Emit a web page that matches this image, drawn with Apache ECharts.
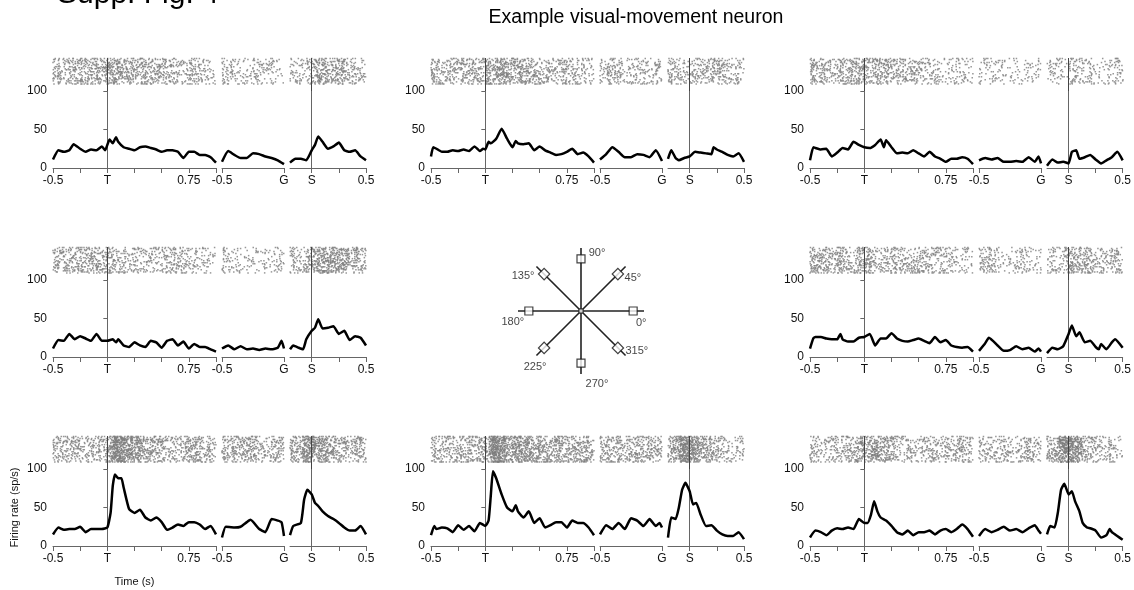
<!DOCTYPE html>
<html>
<head>
<meta charset="utf-8">
<script src="https://cdn.jsdelivr.net/npm/echarts@6/dist/echarts.min.js"></script>
<style>
html, body { margin: 0; padding: 0; background: #fff; }
#chart { width: 1134px; height: 590px; }
</style>
</head>
<body>
<div id="chart"></div>
<script>
// Firing-rate curves (sp/s) per saccade direction, as [time (s), rate] pairs.
// t = aligned on target onset, g = aligned on go cue, s = aligned on saccade onset.
const t135 = [[-0.5,11],[-0.45,23],[-0.4,21],[-0.35,23],[-0.31,31],[-0.25,25],[-0.2,21],[-0.15,24],[-0.1,23],[-0.05,28],[-0.02,23],[0.02,37],[0.05,32],[0.08,40],[0.1,34],[0.15,27],[0.2,25],[0.25,23],[0.3,27],[0.35,28],[0.4,26],[0.45,24],[0.5,21],[0.55,23],[0.6,23],[0.65,21],[0.7,13],[0.75,21],[0.8,21],[0.85,17],[0.9,17],[0.95,14],[1.0,7]];
const g135 = [[-0.5,8],[-0.45,22],[-0.4,17],[-0.35,13],[-0.3,13],[-0.25,19],[-0.2,18],[-0.15,15],[-0.1,13],[-0.05,10],[0,5]];
const s135 = [[-0.2,7],[-0.15,12],[-0.1,12],[-0.05,10],[0,23],[0.03,30],[0.06,41],[0.1,34],[0.15,25],[0.2,28],[0.25,33],[0.3,23],[0.35,21],[0.4,23],[0.45,15],[0.5,10]];

const t90 = [[-0.5,15],[-0.48,27],[-0.45,25],[-0.4,21],[-0.35,21],[-0.3,23],[-0.25,22],[-0.2,24],[-0.15,22],[-0.1,28],[-0.05,22],[-0.02,25],[0,24],[0.03,34],[0.05,32],[0.1,38],[0.15,51],[0.2,38],[0.25,27],[0.28,35],[0.3,32],[0.35,31],[0.4,32],[0.45,23],[0.5,28],[0.55,23],[0.6,20],[0.65,17],[0.7,18],[0.75,21],[0.8,25],[0.85,18],[0.9,20],[0.95,15],[1.0,7]];
const g90 = [[-0.5,11],[-0.45,18],[-0.4,27],[-0.35,21],[-0.3,14],[-0.25,14],[-0.2,18],[-0.15,17],[-0.1,14],[-0.05,23],[0,9]];
const s90 = [[-0.2,12],[-0.17,23],[-0.13,13],[-0.1,10],[-0.05,13],[0,15],[0.05,21],[0.1,20],[0.15,19],[0.2,18],[0.22,27],[0.25,24],[0.3,21],[0.35,17],[0.4,15],[0.45,19],[0.5,8]];

const t45 = [[-0.5,10],[-0.47,27],[-0.45,26],[-0.4,24],[-0.35,25],[-0.3,15],[-0.25,20],[-0.2,26],[-0.15,24],[-0.1,34],[-0.05,30],[0,27],[0.05,26],[0.1,30],[0.15,37],[0.18,27],[0.2,36],[0.25,27],[0.3,19],[0.35,20],[0.4,19],[0.45,23],[0.5,19],[0.55,15],[0.6,21],[0.65,15],[0.7,12],[0.75,8],[0.8,12],[0.85,12],[0.9,14],[0.95,12],[1.0,5]];
const g45 = [[-0.5,10],[-0.45,13],[-0.4,11],[-0.35,13],[-0.3,8],[-0.25,8],[-0.2,9],[-0.15,8],[-0.1,14],[-0.05,8],[-0.02,15],[0,6]];
const s45 = [[-0.2,3],[-0.15,11],[-0.1,7],[-0.05,8],[0,6],[0.03,21],[0.07,23],[0.1,12],[0.15,14],[0.2,17],[0.25,11],[0.3,6],[0.35,10],[0.4,14],[0.45,21],[0.5,10]];

const t180 = [[-0.5,11],[-0.45,22],[-0.4,21],[-0.35,30],[-0.3,23],[-0.25,27],[-0.2,24],[-0.15,21],[-0.1,30],[-0.05,21],[0,21],[0.05,23],[0.08,19],[0.1,23],[0.15,15],[0.2,13],[0.25,19],[0.3,15],[0.35,13],[0.4,21],[0.45,19],[0.5,12],[0.55,21],[0.6,23],[0.65,15],[0.7,20],[0.75,11],[0.8,17],[0.85,13],[0.9,13],[0.95,10],[1.0,7]];
const g180 = [[-0.5,11],[-0.45,15],[-0.4,10],[-0.35,14],[-0.3,10],[-0.25,11],[-0.2,9],[-0.15,11],[-0.1,10],[-0.05,12],[-0.02,21],[0,11]];
const s180 = [[-0.2,10],[-0.17,15],[-0.12,12],[-0.08,10],[-0.05,23],[0,34],[0.03,38],[0.06,49],[0.1,37],[0.15,38],[0.2,40],[0.25,30],[0.3,34],[0.35,22],[0.4,27],[0.45,25],[0.5,15]];

const t0 = [[-0.5,11],[-0.47,24],[-0.45,26],[-0.4,26],[-0.35,24],[-0.3,23],[-0.25,23],[-0.22,30],[-0.2,23],[-0.15,20],[-0.1,20],[-0.05,25],[0,26],[0.05,30],[0.1,15],[0.15,24],[0.2,24],[0.25,31],[0.3,24],[0.35,21],[0.4,20],[0.45,22],[0.5,24],[0.55,21],[0.6,18],[0.65,26],[0.7,19],[0.75,22],[0.8,15],[0.85,13],[0.9,12],[0.95,13],[1.0,7]];
const g0 = [[-0.5,8],[-0.45,18],[-0.42,25],[-0.35,15],[-0.3,8],[-0.25,9],[-0.2,14],[-0.15,10],[-0.1,12],[-0.05,7],[-0.02,11],[0,7]];
const s0 = [[-0.2,5],[-0.15,12],[-0.1,10],[-0.05,14],[0,30],[0.03,41],[0.07,27],[0.1,32],[0.15,19],[0.2,21],[0.25,13],[0.28,10],[0.3,17],[0.35,10],[0.4,19],[0.43,23],[0.5,12]];

const t225 = [[-0.5,15],[-0.45,24],[-0.4,21],[-0.35,22],[-0.3,22],[-0.25,25],[-0.2,18],[-0.15,22],[-0.1,22],[-0.05,22],[0,24],[0.03,43],[0.05,78],[0.07,93],[0.1,88],[0.13,88],[0.15,76],[0.2,48],[0.25,43],[0.3,47],[0.35,37],[0.4,33],[0.45,37],[0.5,31],[0.55,21],[0.6,24],[0.65,28],[0.7,26],[0.75,31],[0.8,31],[0.85,28],[0.9,22],[0.95,26],[1.0,15]];
const g225 = [[-0.5,11],[-0.47,25],[-0.4,24],[-0.35,25],[-0.3,31],[-0.27,34],[-0.2,22],[-0.15,18],[-0.1,35],[-0.05,33],[-0.02,31],[0,13]];
const s225 = [[-0.2,14],[-0.17,26],[-0.1,30],[-0.07,60],[-0.04,73],[0,67],[0.03,56],[0.06,52],[0.1,45],[0.15,39],[0.2,35],[0.25,30],[0.3,24],[0.35,20],[0.4,20],[0.45,26],[0.5,15]];

const t270 = [[-0.5,14],[-0.47,26],[-0.45,22],[-0.4,24],[-0.35,23],[-0.3,18],[-0.25,27],[-0.2,21],[-0.15,26],[-0.1,19],[-0.05,30],[0,26],[0.03,33],[0.05,65],[0.07,97],[0.1,88],[0.15,67],[0.2,50],[0.25,45],[0.28,53],[0.3,45],[0.35,37],[0.4,45],[0.45,30],[0.5,36],[0.55,24],[0.6,27],[0.65,31],[0.7,31],[0.75,24],[0.8,33],[0.85,30],[0.9,30],[0.95,24],[1.0,14]];
const g270 = [[-0.5,15],[-0.45,27],[-0.4,22],[-0.35,30],[-0.3,22],[-0.25,36],[-0.2,33],[-0.15,26],[-0.1,35],[-0.05,26],[-0.02,30],[0,24]];
const s270 = [[-0.2,11],[-0.17,37],[-0.13,35],[-0.1,50],[-0.07,73],[-0.04,82],[0,71],[0.03,54],[0.06,56],[0.1,41],[0.15,26],[0.2,27],[0.25,20],[0.3,15],[0.35,13],[0.4,13],[0.45,18],[0.5,9]];

const t315 = [[-0.5,11],[-0.45,20],[-0.4,18],[-0.35,14],[-0.3,20],[-0.25,23],[-0.2,22],[-0.15,24],[-0.1,22],[-0.05,35],[0,30],[0.03,30],[0.06,40],[0.09,58],[0.12,45],[0.15,37],[0.2,33],[0.25,26],[0.3,18],[0.35,15],[0.4,20],[0.45,14],[0.5,18],[0.55,18],[0.6,20],[0.65,15],[0.7,20],[0.75,22],[0.8,18],[0.85,22],[0.9,28],[0.95,22],[1.0,12]];
const g315 = [[-0.5,13],[-0.45,22],[-0.4,18],[-0.35,21],[-0.3,25],[-0.25,20],[-0.2,22],[-0.15,18],[-0.1,23],[-0.05,27],[-0.02,20],[0,16]];
const s315 = [[-0.2,15],[-0.17,26],[-0.13,24],[-0.1,43],[-0.07,73],[-0.04,81],[0,67],[0.03,71],[0.06,58],[0.1,45],[0.13,30],[0.17,24],[0.2,23],[0.25,20],[0.3,11],[0.35,14],[0.38,22],[0.4,18],[0.45,13],[0.5,8]];

// Saccade directions (degrees) and the label drawn next to each target square
const directions = [0, 45, 90, 135, 180, 225, 270, 315];
const directionLabels = ['0°', '45°', '90°', '135°', '180°', '225°', '270°', '315°'];

// Tick labels of the three time axes and the rate axis
const targetTicks = [-0.5, 0, 0.75];
const targetTickText = ['-0.5', 'T', '0.75'];
const goTicks = [-0.5, 0];
const goTickText = ['-0.5', 'G'];
const saccadeTicks = [0, 0.5];
const saccadeTickText = ['S', '0.5'];
const rateTicks = [0, 50, 100];

// ---------- layout ----------
const FONT = 'Liberation Sans, Arial, sans-serif';
const AXIS_COLOR = '#666';
const TEXT_COLOR = '#111';
const COL_X = [53, 431, 810];      // left edge of each column of panels
const ROW_Y = [91, 280, 469];      // pixel row of the 100 sp/s level
const PSTH_H = 77;
const RASTER_H = 33;
const N_TRIALS = 26;

const panels = [
  { row: 0, col: 0, curves: [t135, g135, s135] },
  { row: 0, col: 1, curves: [t90, g90, s90] },
  { row: 0, col: 2, curves: [t45, g45, s45] },
  { row: 1, col: 0, curves: [t180, g180, s180] },
  { row: 1, col: 2, curves: [t0, g0, s0] },
  { row: 2, col: 0, curves: [t225, g225, s225], names: true },
  { row: 2, col: 1, curves: [t270, g270, s270] },
  { row: 2, col: 2, curves: [t315, g315, s315] }
];

const segments = [
  { offset: 0,   width: 163, min: -0.5, max: 1.0, ticks: [-0.5, -0.25, 0, 0.25, 0.5, 0.75, 1.0], labels: targetTicks, text: targetTickText, event: true },
  { offset: 169, width: 62,  min: -0.5, max: 0,   ticks: [-0.5, 0], labels: goTicks, text: goTickText, event: false },
  { offset: 237, width: 76,  min: -0.2, max: 0.5, ticks: [0, 0.25, 0.5], labels: saccadeTicks, text: saccadeTickText, event: true }
];

// Spike times per trial by integrate-and-fire on the rate curve, so that the
// dot density of each raster follows its PSTH. Thresholds come from an
// integer hash, which keeps the output identical on every load.
function rateAt(curve, t) {
  for (let i = 0; i < curve.length - 1; i++) {
    if (t <= curve[i + 1][0]) {
      const [ta, ra] = curve[i], [tb, rb] = curve[i + 1];
      return ra + (rb - ra) * (t - ta) / (tb - ta);
    }
  }
  return curve[curve.length - 1][1];
}
function hash01(n) {
  n = (n ^ 61) ^ (n >>> 16);
  n = (n + (n << 3)) | 0;
  n = n ^ (n >>> 4);
  n = Math.imul(n, 0x27d4eb2d);
  n = n ^ (n >>> 15);
  return (n >>> 0) / 4294967296;
}
function threshold(n) {
  return 0.12 + 0.88 * -Math.log(1 - 0.999 * hash01(n));
}
let spikeCounter = 1;
function rasterFrom(curve) {
  const pts = [];
  const tStart = curve[0][0], tEnd = curve[curve.length - 1][0];
  const dt = 0.001;
  for (let k = 0; k < N_TRIALS; k++) {
    let thr = threshold(spikeCounter++);
    let acc = hash01(spikeCounter++ * 7919) * thr;
    for (let t = tStart; t <= tEnd + 1e-9; t += dt) {
      acc += rateAt(curve, t) * dt;
      if (acc >= thr) {
        pts.push([t, k + 0.5]);
        acc -= thr;
        thr = threshold(spikeCounter++);
      }
    }
  }
  return pts;
}

const grid = [], xAxis = [], yAxis = [], series = [];

function labelFormatter(seg) {
  return function (v) {
    const i = seg.labels.findIndex(x => Math.abs(x - v) < 1e-9);
    return i >= 0 ? seg.text[i] : '';
  };
}

panels.forEach(p => {
  const x0 = COL_X[p.col], yTop = ROW_Y[p.row];
  segments.forEach((seg, j) => {
    const curve = p.curves[j];
    // rate (PSTH) axes
    const gi = grid.length;
    grid.push({ left: x0 + seg.offset, top: yTop, width: seg.width, height: PSTH_H });
    const xa = {
      gridIndex: gi, type: 'value', min: seg.min, max: seg.max,
      axisLine: { show: true, lineStyle: { color: AXIS_COLOR, width: 1 } },
      axisTick: { show: true, length: 5, customValues: seg.ticks, lineStyle: { color: AXIS_COLOR } },
      axisLabel: { customValues: seg.labels, formatter: labelFormatter(seg), margin: 7, fontSize: 12, color: TEXT_COLOR, fontFamily: FONT },
      splitLine: { show: false }
    };
    if (p.names && j === 0) {
      xa.name = 'Time (s)';
      xa.nameLocation = 'middle';
      xa.nameGap = 30;
      xa.nameTextStyle = { fontSize: 11, color: TEXT_COLOR, fontFamily: FONT };
    }
    xAxis.push(xa);
    if (j === 0) {
      const ya = {
        gridIndex: gi, type: 'value', min: 0, max: 100,
        axisLine: { show: true, lineStyle: { color: AXIS_COLOR, width: 1 } },
        axisTick: { show: true, length: 4, customValues: rateTicks, lineStyle: { color: AXIS_COLOR } },
        axisLabel: { customValues: rateTicks, margin: 6, fontSize: 12, color: TEXT_COLOR, fontFamily: FONT },
        splitLine: { show: false }
      };
      if (p.names) {
        ya.name = 'Firing rate (sp/s)';
        ya.nameLocation = 'middle';
        ya.nameGap = 33;
        ya.nameTextStyle = { fontSize: 11, color: TEXT_COLOR, fontFamily: FONT };
      }
      yAxis.push(ya);
    } else {
      yAxis.push({ gridIndex: gi, type: 'value', min: 0, max: 100, show: false, splitLine: { show: false } });
    }
    const psth = {
      type: 'line', xAxisIndex: gi, yAxisIndex: gi, data: curve,
      showSymbol: false, smooth: 0.15, silent: true,
      lineStyle: { color: '#000', width: 2.5 }, z: 5
    };
    if (seg.event) {
      psth.markLine = {
        silent: true, symbol: 'none', label: { show: false },
        lineStyle: { color: '#666', width: 1, type: 'solid' },
        data: [{ xAxis: 0 }]
      };
    }
    series.push(psth);

    // spike raster above the rate axes
    const ri = grid.length;
    grid.push({ left: x0 + seg.offset, top: yTop - RASTER_H, width: seg.width, height: RASTER_H });
    xAxis.push({ gridIndex: ri, type: 'value', min: seg.min, max: seg.max, show: false, splitLine: { show: false } });
    yAxis.push({ gridIndex: ri, type: 'value', min: -6.5, max: N_TRIALS, show: false, splitLine: { show: false } });
    const raster = {
      type: 'scatter', xAxisIndex: ri, yAxisIndex: ri, data: rasterFrom(curve),
      symbol: 'rect', symbolSize: 1.5, silent: true,
      itemStyle: { color: '#7d7d7d' }
    };
    if (seg.event) {
      raster.markLine = {
        silent: true, symbol: 'none', label: { show: false },
        lineStyle: { color: '#444', width: 1, type: 'solid' },
        data: [{ xAxis: 0 }]
      };
    }
    series.push(raster);
  });
});

// Direction key in the centre cell
const dg = grid.length;
grid.push({ left: 511, top: 241, width: 140, height: 140 });
xAxis.push({ gridIndex: dg, type: 'value', min: -1, max: 1, show: false, splitLine: { show: false } });
yAxis.push({ gridIndex: dg, type: 'value', min: -1, max: 1, show: false, splitLine: { show: false } });
const R_LINE = 0.9, R_SQUARE = 0.745;
const labelOffsets = [[8, 12], [15, 4], [16, -6], [-21, 2], [-16, 11], [-9, 19], [16, 21], [19, 3]];
directions.forEach((deg, i) => {
  const a = deg * Math.PI / 180;
  series.push({
    type: 'line', xAxisIndex: dg, yAxisIndex: dg, silent: true, showSymbol: false,
    data: [[0, 0], [R_LINE * Math.cos(a), R_LINE * Math.sin(a)]],
    lineStyle: { color: '#222', width: 1.6 }, z: 3
  });
  series.push({
    type: 'scatter', xAxisIndex: dg, yAxisIndex: dg, silent: true,
    data: [[R_SQUARE * Math.cos(a), R_SQUARE * Math.sin(a)]],
    symbol: 'rect', symbolSize: 8, symbolRotate: deg % 90 === 0 ? 0 : 45,
    itemStyle: { color: '#fff', borderColor: '#111', borderWidth: 1.2 },
    label: {
      show: true, position: 'inside', offset: labelOffsets[i],
      formatter: directionLabels[i], fontSize: 11, color: TEXT_COLOR, fontFamily: FONT
    },
    z: 6
  });
});
series.push({
  type: 'scatter', xAxisIndex: dg, yAxisIndex: dg, silent: true,
  data: [[0, 0]], symbol: 'rect', symbolSize: 4,
  itemStyle: { color: '#fff', borderColor: '#111', borderWidth: 1 }, z: 7
});

const chart = echarts.init(document.getElementById('chart'), null, { renderer: 'canvas' });
chart.setOption({
  animation: false,
  backgroundColor: '#fff',
  textStyle: { fontFamily: FONT },
  grid, xAxis, yAxis, series,
  graphic: [
    { type: 'text', x: 57, y: 10, silent: true,
      style: { text: 'Supp. Fig. 4', fontSize: 30, fontFamily: FONT, fill: '#000', align: 'left', verticalAlign: 'bottom' } },
    { type: 'text', x: 636, y: 18, silent: true,
      style: { text: 'Example visual-movement neuron', fontSize: 19.5, fontFamily: FONT, fill: '#000', align: 'center', verticalAlign: 'middle' } }
  ]
});
</script>
</body>
</html>
